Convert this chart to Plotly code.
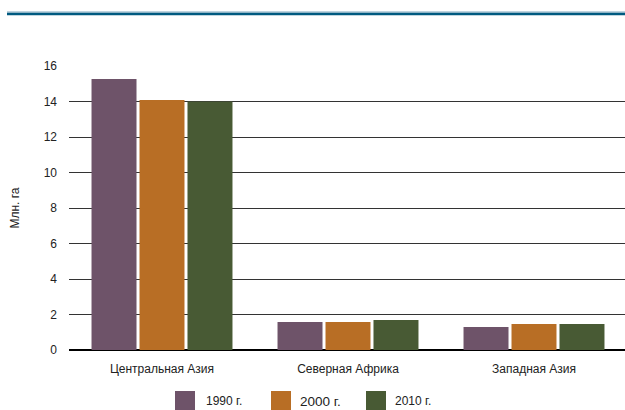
import plotly.graph_objects as go

categories = ["Центральная Азия", "Северная Африка", "Западная Азия"]
series_names = ["1990 г.", "2000 г.", "2010 г."]
values_1990 = [15.27, 1.58, 1.30]
values_2000 = [14.08, 1.58, 1.46]
values_2010 = [14.0, 1.69, 1.46]
colors = ["#6e5369", "#b86e25", "#485a34"]
y_ticks = [0, 2, 4, 6, 8, 10, 12, 14, 16]

W, H = 627, 410
L, R, T, B = 69, 0, 66, 60
PW, PH = W - L - R, H - T - B

def px_x(px):
    return (px - L) / PW

def px_y(py):
    return (H - B - py) / PH

fig = go.Figure()
for name, vals, col in zip(series_names, [values_1990, values_2000, values_2010], colors):
    fig.add_trace(go.Bar(x=categories, y=vals, name=name, marker=dict(color=col, line=dict(width=0)),
                         showlegend=False))

font = "Liberation Sans, Arial, sans-serif"
shapes = [
    dict(type="line", xref="paper", yref="paper", x0=px_x(7), x1=1.0, y0=px_y(12), y1=px_y(12),
         line=dict(color="#7fa6bc", width=1)),
    dict(type="line", xref="paper", yref="paper", x0=px_x(7), x1=1.0, y0=px_y(14), y1=px_y(14),
         line=dict(color="#005a80", width=2.5)),
]
annotations = []
legend_sq = [175, 271, 366]
legend_tx = [204, 298, 393]
legend_sz = [12, 13.5, 12]
for name, col, sx, tx, sz in zip(series_names, colors, legend_sq, legend_tx, legend_sz):
    shapes.append(dict(type="rect", xref="paper", yref="paper", x0=px_x(sx), x1=px_x(sx + 20),
                       y0=px_y(410), y1=px_y(391), fillcolor=col, line=dict(width=0)))
    annotations.append(dict(text=name, xref="paper", yref="paper", x=px_x(tx), y=px_y(401),
                            xanchor="left", yanchor="middle", showarrow=False,
                            font=dict(family=font, size=sz, color="#222")))

fig.update_layout(
    width=W, height=H,
    margin=dict(l=L, r=R, t=T, b=B),
    paper_bgcolor="white", plot_bgcolor="white",
    barmode="group", bargap=0.226, bargroupgap=0.0625,
    font=dict(family=font, size=12, color="#222"),
    shapes=shapes, annotations=annotations,
    xaxis=dict(showgrid=False, showline=False, ticks="", tickfont=dict(size=12, color="#222"),
               zeroline=False, ticklabelstandoff=10),
    yaxis=dict(range=[0, 16], tickvals=y_ticks, showgrid=True, gridcolor="#333", gridwidth=1,
               zeroline=True, zerolinecolor="#000", zerolinewidth=2, showline=False,
               ticks="", ticklabelstandoff=11, tickfont=dict(size=12, color="#222"),
               title=dict(text="Млн. га", font=dict(size=12, color="#222"), standoff=21)),
    showlegend=False,
)

fig.write_html("out.html", config={"displayModeBar": False},
               post_script="document.body.style.margin='0px';document.body.style.overflow='hidden';")
